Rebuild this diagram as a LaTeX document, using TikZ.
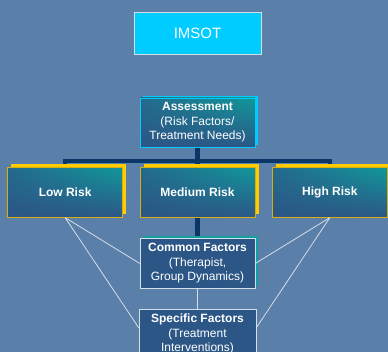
\documentclass[tikz,border=0pt]{standalone}
\usepackage{fontspec}
\setmainfont{Liberation Sans}
\usepackage{xcolor}
\definecolor{bgblue}{HTML}{5A7FA8}
\definecolor{imsotcyan}{HTML}{00CCFF}
\definecolor{boxteal}{HTML}{10989A}
\definecolor{boxnavy}{HTML}{2C5686}
\definecolor{riskyellow}{HTML}{FFCC00}
\definecolor{riskedge}{HTML}{D8AE10}
\definecolor{factorteal}{HTML}{12A0A0}
\definecolor{factoredge}{HTML}{D5DFEA}
\definecolor{treenavy}{HTML}{0B3768}
\usepackage{tikz}
\usetikzlibrary{positioning,shadows,shadings,backgrounds}
\tikzstyle{topbox} = [rectangle, draw=factoredge, fill=imsotcyan, text=white,
minimum width=127pt, minimum height=42pt, font=\fontsize{15}{18}\selectfont]
\tikzstyle{shaded} = [rectangle, upper right=boxteal, upper left=boxnavy!70!boxteal,
lower left=boxnavy, lower right=boxnavy, text=white, align=center,
minimum width=115pt, minimum height=50pt, inner sep=0pt, font=\fontsize{12}{14.5}\selectfont]
\tikzstyle{riskbox} = [shaded, draw=riskedge, general shadow={fill=riskyellow, shadow xshift=3.5pt, shadow yshift=3pt}]
\tikzstyle{headbox} = [shaded, minimum height=49pt, draw=imsotcyan, general shadow={fill=imsotcyan, shadow xshift=2.5pt, shadow yshift=1.5pt}]
\tikzstyle{factorbox} = [rectangle, draw=factoredge, fill=boxnavy, text=white, align=center,
minimum width=115pt, minimum height=50pt, inner sep=0pt, font=\fontsize{12}{14.5}\selectfont]
\tikzstyle{tree} = [draw=treenavy, line width=4.5pt]
\tikzstyle{link} = [draw=factoredge, line width=0.8pt]

\begin{document}
\begin{tikzpicture}[x=1pt, y=-1pt]
    \begin{scope}[on background layer]
        \fill[bgblue] (0,0) rectangle (388,352);
    \end{scope}
    \useasboundingbox (0,0) rectangle (388,352);

    % Nodes
    \node [headbox] (assess) at (197.5,122.5) {\textbf{Assessment}\\(Risk Factors/\\Treatment Needs)};
    \node [topbox, above=43pt of assess] (imsot) {IMSOT};

    \node [riskbox, below=20pt of assess] (medium) {\textbf{Medium Risk}};
    \node [riskbox, left=17pt of medium] (low) {\textbf{Low Risk}};
    \node [riskbox, right=17pt of medium] (high) {\textbf{High Risk}};

    \node [factorbox, below=20.7pt of medium, general shadow={fill=factorteal, shadow xshift=3pt, shadow yshift=2pt}] (common) {\textbf{Common Factors}\\(Therapist,\\Group Dynamics)};
    \node [factorbox, below=20pt of common, minimum width=117pt] (specific) {\textbf{Specific Factors}\\(Treatment\\Interventions)};

    % Tree
    \begin{scope}[on background layer]
        \draw[tree] (assess.south) -- (common.north);
        \draw[tree] (low.north) -- ++(0,-6) -| (high.north);
    \end{scope}

    % Links
    \draw[link] (common.south) -- (specific.north);
    \draw[link] (low.south) -- (common.west);
    \draw[link] (low.south) -- ([yshift=6pt]specific.west);
    \draw[link] (high.south) -- (common.east);
    \draw[link] (high.south) -- ([yshift=6pt]specific.east);

\end{tikzpicture}
\end{document}
